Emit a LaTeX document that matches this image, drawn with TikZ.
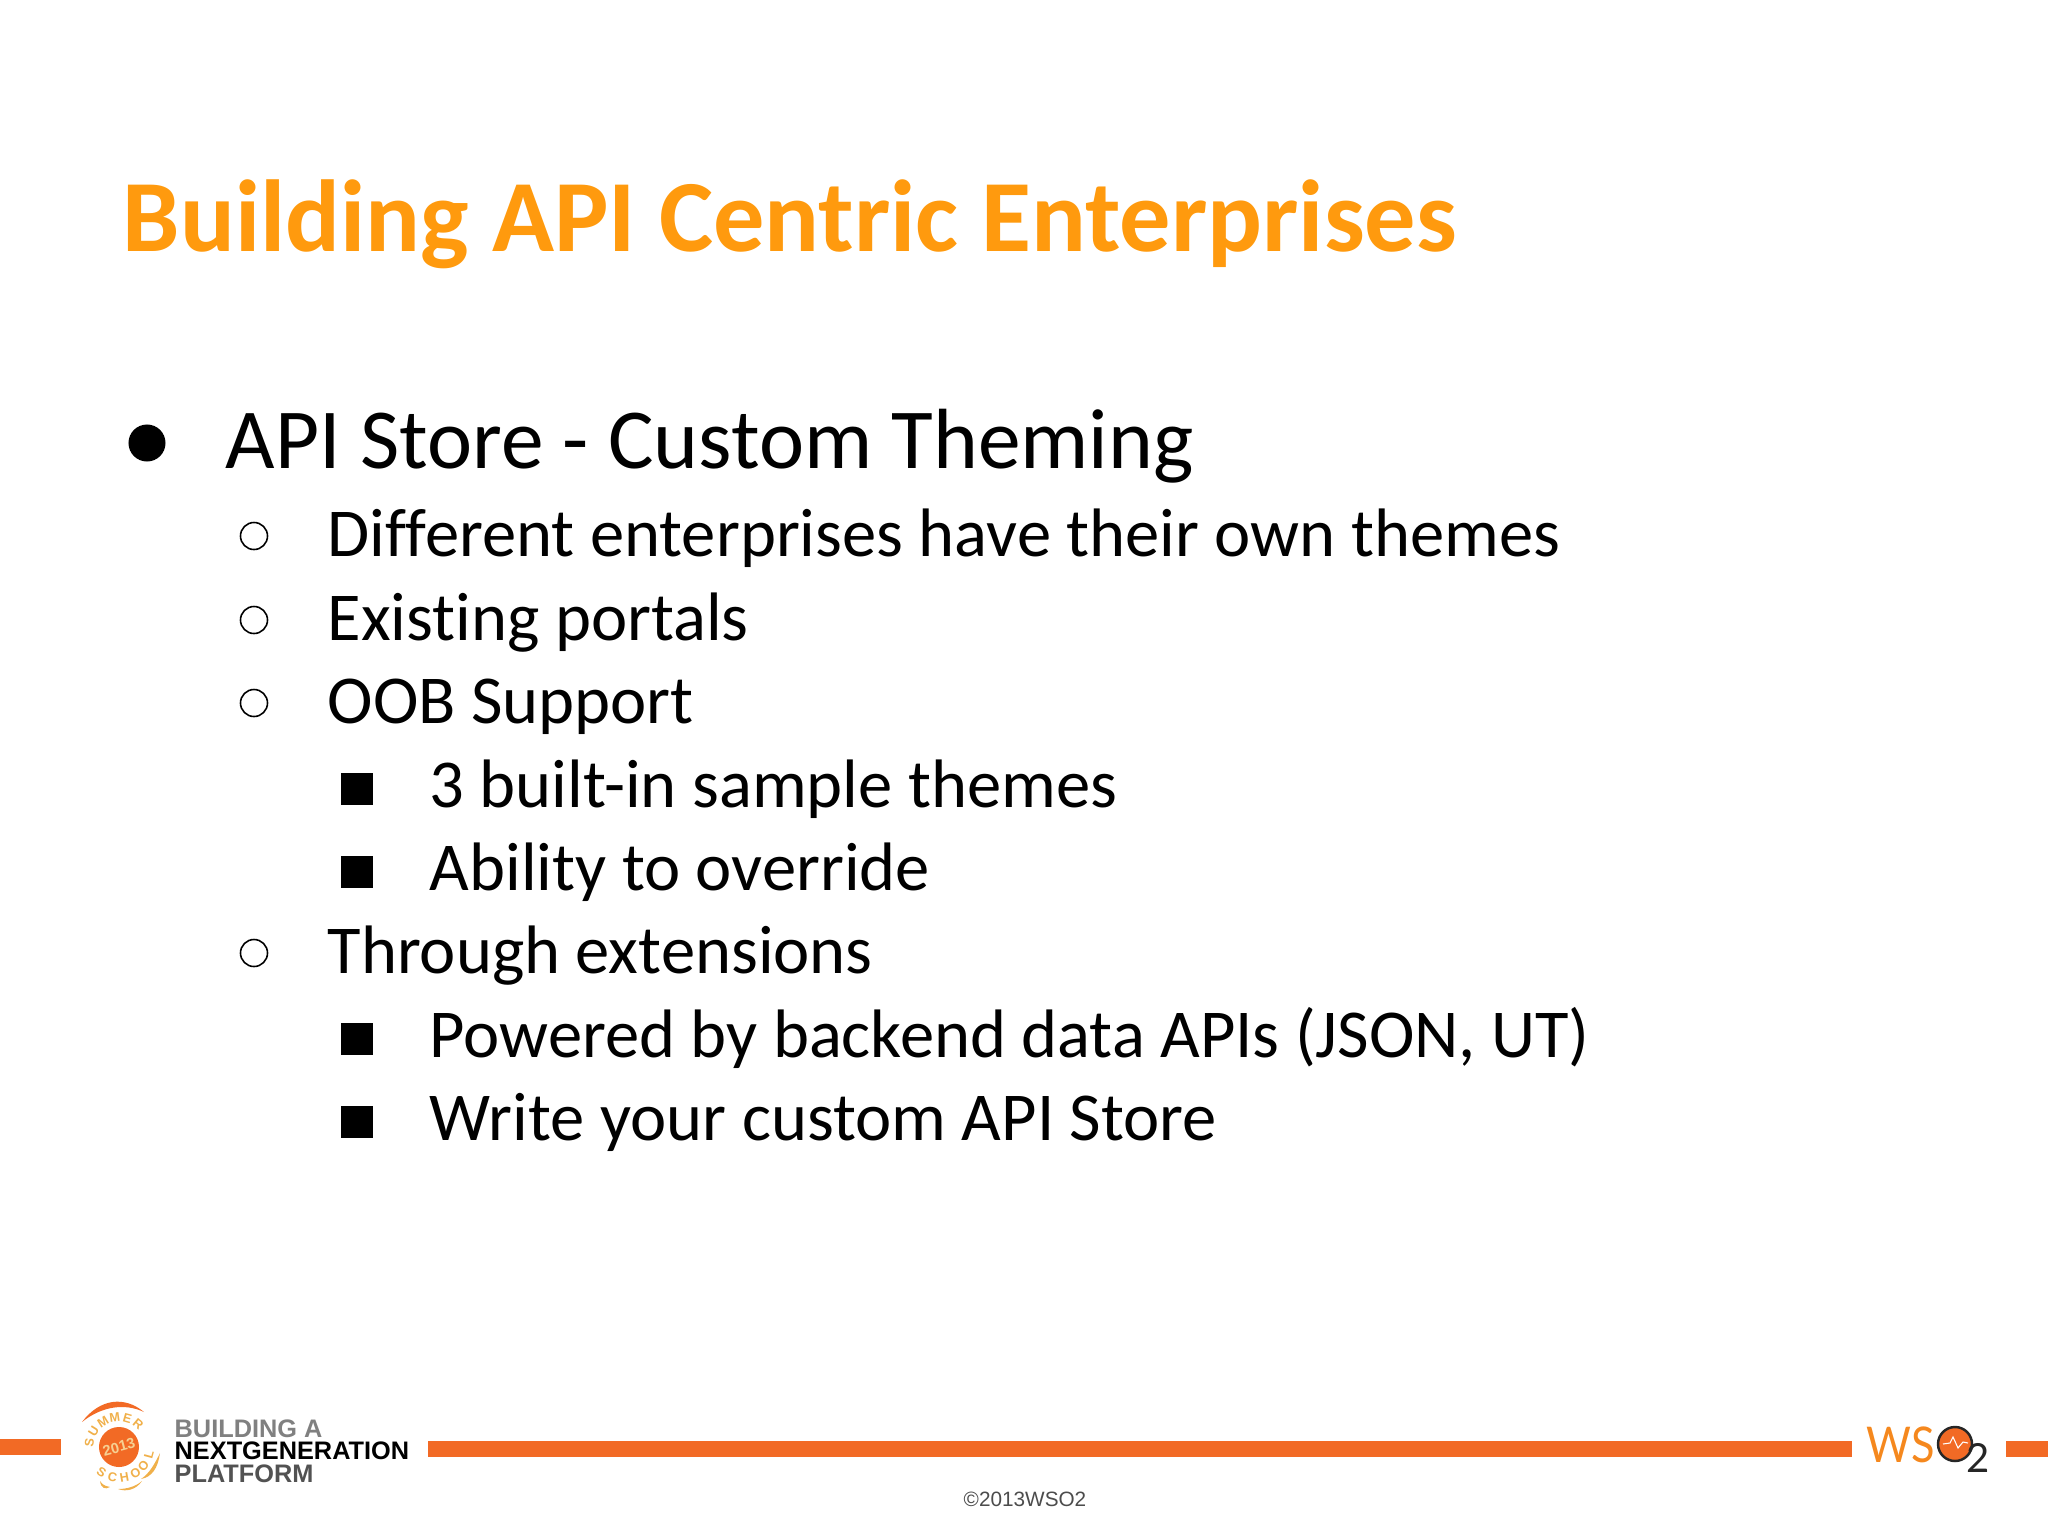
\documentclass[tikz,border=0pt]{standalone}
\usepackage{fontspec}
\setmainfont[Ligatures=NoCommon]{Carlito}
\newfontfamily\footfont{Liberation Sans}
\newfontfamily\logofont{Lato}
\definecolor{titleorange}{HTML}{FF9A0E}
\definecolor{barorange}{HTML}{F26A25}
\definecolor{logoyellow}{HTML}{F0B04A}
\tikzset{
  line/.style={anchor=base west, inner sep=0pt, font=\fontsize{19.5pt}{23pt}\selectfont},
  toplinetext/.style={anchor=base west, inner sep=0pt, font=\fontsize{24.3pt}{29pt}\selectfont},
  footline/.style={anchor=base west, inner sep=0pt, font=\footfont\bfseries\fontsize{7.2pt}{8pt}\selectfont},
  bar/.style={fill=barorange, draw=none},
  letter/.style={inner sep=0pt, text=logoyellow, font=\footfont\bfseries\fontsize{3.6pt}{4pt}\selectfont}
}
\begin{document}
\begin{tikzpicture}[x=0.01cm,y=-0.01cm]
\useasboundingbox (0,0) rectangle (2048,1536);
\node[anchor=base west, inner sep=0pt, text=titleorange, font=\bfseries\fontsize{29.1pt}{34pt}\selectfont] (title) at (122,251) {Building API Centric Enterprises};
% bullets
\node[circle, fill=black, inner sep=0pt, minimum size=0.37cm] (dot) at (147,443) {};
\foreach \y in {536,620,703,953} {
  \node[circle, draw=black, line width=0.45pt, inner sep=0pt, minimum size=0.27cm] (ring\y) at (254,\y) {};
}
\foreach \y in {789,872,1039,1122} {
  \node[rectangle, fill=black, inner sep=0pt, minimum size=0.32cm] (square\y) at (357,\y) {};
}
\node[toplinetext] (store) at (225,468) {API Store - Custom Theming};
\node[line] (themes) at (327,556) {Different enterprises have their own themes};
\node[line] (portals) at (327,640) {Existing portals};
\node[line] (oob) at (327,723) {OOB Support};
\node[line] (samples) at (429,807) {3 built-in sample themes};
\node[line] (override) at (429,890) {Ability to override};
\node[line] (extensions) at (327,973) {Through extensions};
\node[line] (backend) at (429,1057) {Powered by backend data APIs (JSON, UT)};
\node[line] (custom) at (429,1140) {Write your custom API Store};
% footer bars
\fill[bar] (0,1439) rectangle (61,1455);
\fill[bar] (428,1441) rectangle (1852,1457);
\fill[bar] (2006,1441) rectangle (2048,1457);
% summer school logo
\node[circle, fill=barorange, inner sep=0pt, minimum size=0.4cm] (sun) at (119,1447) {};
\node[rotate=15, inner sep=0pt, text=logoyellow!60!white, font=\footfont\bfseries\fontsize{4.2pt}{5pt}\selectfont] (year) at (119,1447) {2013};
\foreach \ch/\a in {S/172,U/148,M/122,M/98,E/74,R/50} {
  \node[letter, rotate=\a-90] at ({119+30*cos(\a)},{1447-30*sin(\a)}) {\ch};
}
\foreach \ch/\a in {S/236,C/258,H/280,O/302,O/322,L/345} {
  \node[letter, rotate=\a+90] at ({119+31*cos(\a)},{1447-31*sin(\a)}) {\ch};
}
\fill[barorange] (82,1422) .. controls (100,1398) and (125,1396) .. (144,1412) .. controls (125,1403) and (102,1406) .. cycle;
\fill[logoyellow] (160,1453) .. controls (158,1468) and (152,1477) .. (141,1479) .. controls (150,1473) and (155,1463) .. cycle;
\fill[logoyellow] (118,1489) .. controls (126,1489) and (135,1487) .. (142,1481) .. controls (136,1490) and (126,1492) .. cycle;
\fill[logoyellow] (100,1481) .. controls (103,1486) and (107,1486) .. (110,1487) .. controls (105,1490) and (101,1488) .. cycle;
\node[footline, text=black!50] (building) at (174,1437) {BUILDING A};
\node[footline, text=black] (nextgen) at (174,1459) {NEXTGENERATION};
\node[footline, text=black!68] (platform) at (174,1482) {PLATFORM};
\node[inner sep=0pt, text=black!70, font=\footfont\fontsize{5.9pt}{7pt}\selectfont] (copyright) at (1025,1499) {©2013WSO2};
% wso2 logo
\node[anchor=base west, inner sep=0pt, text=barorange!80!yellow, font=\logofont\fontsize{14pt}{16pt}\selectfont] (ws) at (1866,1462) {\scalebox{0.88}[1]{WS}};
\node[circle, fill=barorange, draw=black!85, line width=0.7pt, inner sep=0pt, minimum size=0.34cm] (oring) at (1955,1444) {};
\draw[white, line width=0.3pt] (1943,1444) -- (1950,1443) -- (1953,1437) -- (1958,1448) -- (1963,1442) -- (1968,1443);
\node[anchor=base west, inner sep=0pt, text=black!85, font=\logofont\fontsize{11.4pt}{13pt}\selectfont] (two) at (1966,1472) {2};
\end{tikzpicture}
\end{document}
